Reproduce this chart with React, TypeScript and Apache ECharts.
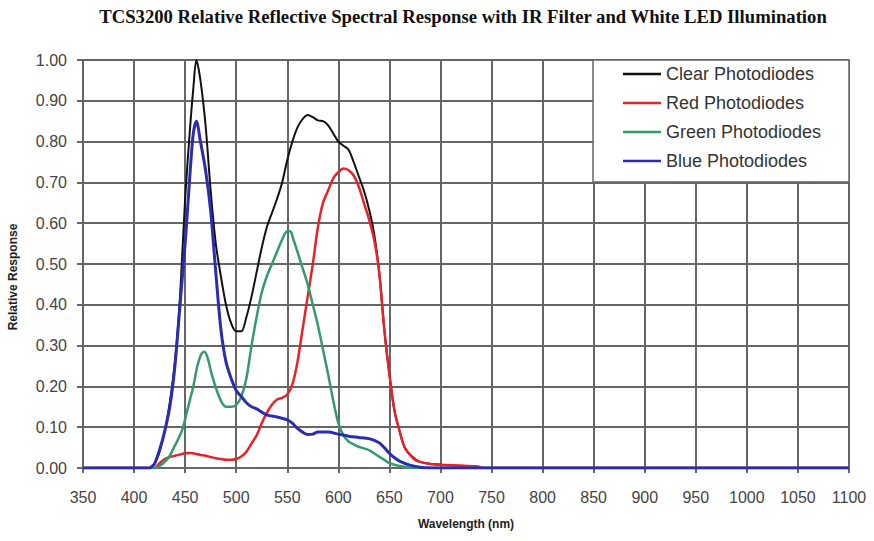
import React, { useEffect, useRef } from "react";
import * as echarts from "echarts";

const titleText =
  "TCS3200 Relative Reflective Spectral Response with IR Filter and White LED Illumination";
const seriesNames = ["Clear Photodiodes", "Red Photodiodes", "Green Photodiodes", "Blue Photodiodes"];
const seriesColors = ["#111111", "#e8222a", "#349a6c", "#2c2cb0"];

const clearPoints: [number, number][] = [
  [350, 0], [415, 0], [420, 0.01], [425, 0.04], [430, 0.09], [435, 0.16], [440, 0.26],
  [445, 0.42], [450, 0.66], [455, 0.84], [458, 0.93], [461, 1.0], [465, 0.95], [470, 0.84],
  [475, 0.68], [480, 0.55], [485, 0.47], [490, 0.4], [495, 0.355], [500, 0.335], [505, 0.335],
  [510, 0.37], [515, 0.42], [520, 0.48], [525, 0.54], [530, 0.59], [535, 0.625], [540, 0.66],
  [545, 0.7], [550, 0.755], [555, 0.8], [560, 0.835], [565, 0.855], [570, 0.865], [575, 0.86],
  [580, 0.852], [585, 0.85], [590, 0.84], [595, 0.82], [600, 0.8], [605, 0.79], [610, 0.78],
  [615, 0.75], [620, 0.715], [625, 0.68], [630, 0.635], [635, 0.575], [640, 0.48], [645, 0.34],
  [650, 0.23], [655, 0.14], [660, 0.09], [665, 0.05], [670, 0.033], [680, 0.015], [700, 0.008],
  [720, 0.005], [740, 0], [1100, 0],
];

const redPoints: [number, number][] = [
  [350, 0], [420, 0], [425, 0.012], [430, 0.022], [435, 0.027], [440, 0.03], [445, 0.033],
  [450, 0.036], [455, 0.037], [460, 0.035], [465, 0.032], [470, 0.03], [475, 0.027], [480, 0.024],
  [485, 0.022], [490, 0.02], [495, 0.02], [500, 0.022], [505, 0.028], [510, 0.04], [515, 0.06],
  [520, 0.08], [525, 0.11], [530, 0.135], [535, 0.155], [540, 0.168], [545, 0.172], [550, 0.18],
  [555, 0.205], [560, 0.26], [565, 0.34], [570, 0.42], [575, 0.5], [580, 0.59], [585, 0.65],
  [590, 0.68], [595, 0.71], [600, 0.725], [605, 0.734], [610, 0.73], [615, 0.717], [620, 0.69],
  [625, 0.65], [630, 0.61], [635, 0.56], [640, 0.48], [645, 0.34], [650, 0.23], [655, 0.14],
  [660, 0.09], [665, 0.05], [670, 0.033], [675, 0.02], [680, 0.015], [690, 0.01], [700, 0.008],
  [720, 0.006], [735, 0.004], [745, 0], [1100, 0],
];

const greenPoints: [number, number][] = [
  [350, 0], [420, 0], [425, 0.005], [430, 0.015], [435, 0.03], [440, 0.055], [445, 0.08],
  [448, 0.1], [452, 0.14], [455, 0.17], [458, 0.2], [462, 0.25], [466, 0.28], [469, 0.285],
  [472, 0.27], [476, 0.23], [481, 0.19], [486, 0.16], [490, 0.15], [495, 0.15], [500, 0.155],
  [505, 0.175], [510, 0.22], [515, 0.3], [520, 0.37], [525, 0.43], [530, 0.47], [535, 0.5],
  [540, 0.53], [545, 0.56], [550, 0.58], [553, 0.58], [556, 0.56], [560, 0.53], [565, 0.49],
  [570, 0.45], [575, 0.4], [580, 0.35], [585, 0.29], [590, 0.23], [595, 0.165], [600, 0.11],
  [605, 0.08], [610, 0.065], [615, 0.058], [620, 0.052], [625, 0.048], [630, 0.044], [635, 0.036],
  [640, 0.028], [645, 0.02], [650, 0.012], [655, 0.008], [660, 0.005], [670, 0.001], [680, 0],
  [1100, 0],
];

const bluePoints: [number, number][] = [
  [350, 0], [415, 0], [418, 0.005], [420, 0.01], [425, 0.045], [430, 0.09], [435, 0.15],
  [440, 0.25], [445, 0.4], [450, 0.55], [452, 0.62], [455, 0.73], [458, 0.82], [461, 0.85],
  [465, 0.8], [470, 0.73], [475, 0.63], [480, 0.48], [485, 0.34], [490, 0.26], [495, 0.22],
  [500, 0.19], [505, 0.175], [510, 0.16], [515, 0.15], [520, 0.145], [530, 0.13], [540, 0.125],
  [550, 0.118], [555, 0.11], [560, 0.097], [565, 0.088], [570, 0.082], [575, 0.083], [580, 0.088],
  [590, 0.088], [600, 0.083], [610, 0.078], [620, 0.075], [630, 0.072], [640, 0.062], [645, 0.05],
  [650, 0.036], [655, 0.025], [660, 0.017], [670, 0.007], [680, 0.002], [690, 0], [1100, 0],
];

const seriesPoints = [clearPoints, redPoints, greenPoints, bluePoints];
const seriesWidths = [2, 2.5, 2.5, 3];

export default function App() {
  const ref = useRef<HTMLDivElement>(null);
  useEffect(() => {
    if (!ref.current) return;
    const chart = echarts.init(ref.current, undefined, { renderer: "svg" });
    const font = "'Liberation Sans', Arial, sans-serif";
    chart.setOption({
      animation: false,
      backgroundColor: "#ffffff",
      grid: { left: 83, right: 25, top: 60, bottom: 73 },
      xAxis: {
        type: "value",
        min: 350,
        max: 1100,
        interval: 50,
        name: "Wavelength (nm)",
        nameLocation: "middle",
        nameGap: 50,
        nameTextStyle: { fontFamily: font, fontWeight: "bold", fontSize: 12, color: "#222" },
        axisLine: { show: true, lineStyle: { color: "#666", width: 2 } },
        axisTick: { show: true, length: 5, lineStyle: { color: "#666", width: 2 } },
        axisLabel: {
          fontFamily: font,
          fontSize: 16,
          color: "#444",
          margin: 21,
          formatter: (v: number) => String(v),
        },
        splitLine: { show: true, lineStyle: { color: "#666", width: 2 } },
      },
      yAxis: {
        type: "value",
        min: 0,
        max: 1,
        interval: 0.1,
        axisLine: { show: true, lineStyle: { color: "#666", width: 2 } },
        axisTick: { show: true, length: 6, lineStyle: { color: "#666", width: 2 } },
        axisLabel: {
          fontFamily: font,
          fontSize: 16,
          color: "#444",
          margin: 16,
          formatter: (v: number) => v.toFixed(2),
        },
        splitLine: { show: true, lineStyle: { color: "#666", width: 2 } },
      },
      legend: {
        orient: "vertical",
        left: 623,
        top: 65,
        data: seriesNames,
        icon: "rect",
        itemWidth: 38,
        itemHeight: 2.5,
        itemGap: 11,
        textStyle: { fontFamily: font, fontSize: 18, color: "#333" },
        padding: 0,
        z: 10,
      },
      graphic: [
        {
          type: "rect",
          z: 5,
          shape: { x: 593, y: 60, width: 256, height: 122 },
          style: { fill: "#ffffff", stroke: "#666", lineWidth: 1.5 },
        },
        {
          type: "text",
          x: 463,
          y: 16,
          style: {
            text: titleText,
            fontFamily: "'Liberation Serif', 'Times New Roman', serif",
            fontWeight: "bold",
            fontSize: 18.7,
            fill: "#111",
            textAlign: "center",
            textVerticalAlign: "middle",
          },
        },
        {
          type: "text",
          x: 13,
          y: 277,
          rotation: Math.PI / 2,
          style: {
            text: "Relative Response",
            fontFamily: font,
            fontWeight: "bold",
            fontSize: 12,
            fill: "#222",
            textAlign: "center",
            textVerticalAlign: "middle",
          },
        },
      ],
      series: seriesNames.map((name, i) => ({
        name,
        type: "line",
        data: seriesPoints[i],
        smooth: 0.3,
        showSymbol: false,
        symbol: "none",
        lineStyle: { color: seriesColors[i], width: seriesWidths[i] },
        itemStyle: { color: seriesColors[i] },
        z: 2 + i,
      })),
    });
    return () => chart.dispose();
  }, []);
  return <div ref={ref} style={{ width: 874, height: 541, position: "absolute", left: 0, top: 0 }} />;
}
